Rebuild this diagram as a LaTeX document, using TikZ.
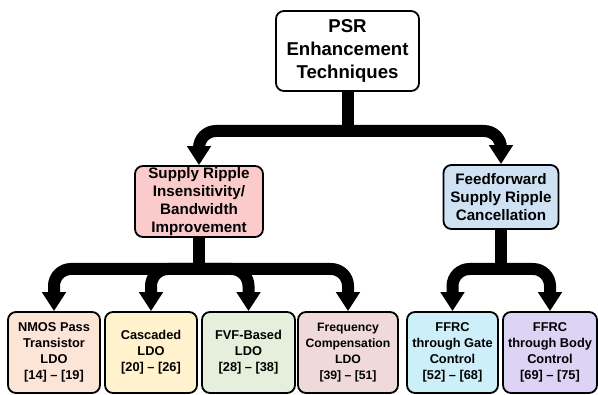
\documentclass[tikz,border=0pt]{standalone}
\usepackage{fontspec}
\setmainfont{Liberation Sans}
\usetikzlibrary{arrows.meta}
\definecolor{cmidA}{HTML}{FBCACA}
\definecolor{cmidB}{HTML}{CFE2F3}
\definecolor{cbA}{HTML}{FCE4D6}
\definecolor{cbB}{HTML}{FFF2CC}
\definecolor{cbC}{HTML}{E6EFDC}
\definecolor{cbD}{HTML}{F0DAD9}
\definecolor{cbE}{HTML}{CCEFFA}
\definecolor{cbF}{HTML}{DCD3F5}
\tikzset{
  boxbase/.style={draw=black, line width=1.8pt, rounded corners=8pt, align=center, inner sep=0pt, font=\bfseries},
  topbox/.style={boxbase, fill=white, minimum width=143pt, minimum height=80pt, font=\fontsize{18.6}{23}\selectfont\bfseries},
  midbox/.style={boxbase, font=\fontsize{15.2}{18}\selectfont\bfseries},
  leafbox/.style={boxbase, minimum height=81pt, font=\fontsize{12.8}{16}\selectfont\bfseries},
  stem/.style={draw=black, line width=12pt},
  conn/.style={draw=black, line width=12pt, rounded corners=17pt, -{Triangle[width=23pt,length=19pt]}},
}
\begin{document}
\begin{tikzpicture}[x=1pt,y=-1pt]
\useasboundingbox (0,0) rectangle (598,395);
% nodes
\node[topbox] (top) at (347.5,51) {PSR\\Enhancement\\Techniques};
\node[midbox, fill=cmidA, minimum width=128pt, minimum height=71pt] (midA) at (199,201.5) {Supply Ripple\\Insensitivity/\\Bandwidth\\Improvement};
\node[midbox, fill=cmidB, minimum width=115pt, minimum height=64pt] (midB) at (501,197) {Feedforward\\Supply Ripple\\Cancellation};
\node[leafbox, fill=cbA, minimum width=92pt] (bA) at (54,352.5) {NMOS Pass\\Transistor\\LDO\\{[14] -- [19]}};
\node[leafbox, fill=cbB, minimum width=92pt] (bB) at (151,352.5) {Cascaded\\LDO\\{[20] -- [26]}};
\node[leafbox, fill=cbC, minimum width=93pt] (bC) at (248.5,352.5) {FVF-Based\\LDO\\{[28] -- [38]}};
\node[leafbox, fill=cbD, minimum width=100pt, font=\fontsize{12.2}{16}\selectfont\bfseries] (bD) at (348,352.5) {Frequency\\Compensation\\LDO\\{[39] -- [51]}};
\node[leafbox, fill=cbE, minimum width=91pt] (bE) at (452.5,352.5) {FFRC\\through Gate\\Control\\{[52] -- [68]}};
\node[leafbox, fill=cbF, minimum width=94pt] (bF) at (550,352.5) {FFRC\\through Body\\Control\\{[69] -- [75]}};
% junctions
\coordinate (jT) at (347.5,131);
\coordinate (jA) at (199,269);
\coordinate (jB) at (501,269);
% connectors
\draw[stem] (top.south) -- ([yshift=-6pt]jT);
\draw[conn] (jT) -| (midA.north);
\draw[conn] (jT) -| (midB.north);
\draw[stem] (midA.south) -- ([yshift=-6pt]jA);
\draw[conn] (jA) -| (bA.north);
\draw[conn] (jA) -| (bB.north);
\draw[conn] (jA) -| (bC.north);
\draw[conn] (jA) -| (bD.north);
\draw[stem] (midB.south) -- ([yshift=-6pt]jB);
\draw[conn] (jB) -| (bE.north);
\draw[conn] (jB) -| (bF.north);
\end{tikzpicture}
\end{document}
